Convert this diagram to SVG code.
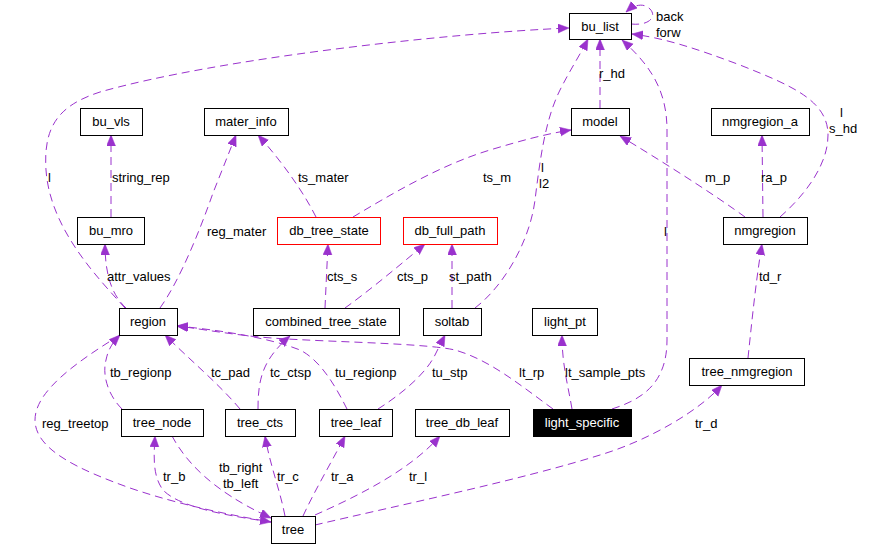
<svg xmlns="http://www.w3.org/2000/svg" width="892" height="548" viewBox="0 0 892 548">
<style>
.n rect{fill:#fff;stroke:#000;stroke-width:1}
.n.red rect{stroke:#f00}
.n.focus rect{fill:#000}
.n text{font-family:"Liberation Sans",Arial,sans-serif;font-size:13px;text-anchor:middle;fill:#000}
.n.focus text{fill:#fff}
.e path{fill:none;stroke:#9a32cd;stroke-width:1;stroke-dasharray:8,5;marker-end:url(#ah)}
.e text{font-family:"Liberation Sans",Arial,sans-serif;font-size:13px;fill:#000}
</style>
<defs>
<marker id="ah" markerUnits="userSpaceOnUse" markerWidth="13" markerHeight="11" refX="11" refY="4.5" orient="auto">
<path d="M0,0 L11,4.5 L0,9 z" fill="#9a32cd" stroke="#9a32cd" stroke-width="0.5"/>
</marker>
</defs>
<rect width="892" height="548" fill="#fff"/>
<g id="edges" class="e">
<path d="M125,308 C100,280 50,230 46,170 C43,125 60,105 100,92 C220,58 450,33 569,28"/>
<text x="48" y="182">l</text>
<path d="M111,217 L111,135"/>
<text x="112" y="182">string_rep</text>
<path d="M160,308 C180,280 200,230 213,193 L236,135"/>
<text x="207" y="236">reg_mater</text>
<path d="M316,217 C305,195 285,165 258,135"/>
<text x="298" y="182">ts_mater</text>
<path d="M353,217 C390,195 440,165 490,150 C520,141 545,134 571,130"/>
<text x="483" y="182">ts_m</text>
<path d="M475,308 C505,285 530,240 535,200 C540,160 545,120 560,90 C570,70 580,55 588,39"/>
<text x="541" y="172">l</text>
<text x="539" y="188">l2</text>
<path d="M600,108 L600,39"/>
<text x="599" y="78">r_hd</text>
<path d="M631,24 C650,26 657,16 650,9 C644,3 635,4 626,12"/>
<text x="656" y="21">back</text>
<text x="656" y="37">forw</text>
<path d="M612,409 C640,400 667,385 667,340 L667,130 C667,90 650,65 622,40"/>
<text x="664" y="236">l</text>
<path d="M780,217 C805,195 828,165 828,135 C828,100 790,85 740,65 C700,50 665,38 632,34"/>
<text x="840" y="117">l</text>
<text x="829" y="133">s_hd</text>
<path d="M745,217 C715,195 660,160 620,136"/>
<text x="705" y="182">m_p</text>
<path d="M763,217 L762,135"/>
<text x="761" y="182">ra_p</text>
<path d="M126,308 C112,295 105,275 105,244"/>
<text x="107" y="281">attr_values</text>
<path d="M325,308 L328,244"/>
<text x="327" y="281">cts_s</text>
<path d="M345,308 C370,290 400,265 425,244"/>
<text x="397" y="281">cts_p</text>
<path d="M452,308 L452,244"/>
<text x="449" y="281">st_path</text>
<path d="M748,358 C752,320 756,280 762,244"/>
<text x="759" y="281">td_r</text>
<path d="M122,409 C108,395 102,375 106,360 C108,350 112,343 120,335"/>
<text x="110" y="377">tb_regionp</text>
<path d="M240,409 C220,385 190,360 165,335"/>
<text x="211" y="377">tc_pad</text>
<path d="M258,409 C258,380 262,360 290,336"/>
<text x="270" y="377">tc_ctsp</text>
<path d="M347,409 C335,385 320,360 300,350 C270,338 220,330 177,326"/>
<text x="335" y="377">tu_regionp</text>
<path d="M378,409 C400,395 425,375 435,355 L445,335"/>
<text x="432" y="377">tu_stp</text>
<path d="M553,409 C520,385 490,360 455,350 C420,342 300,342 250,336 C215,332 195,328 177,326"/>
<text x="519" y="377">lt_rp</text>
<path d="M572,409 C568,385 562,365 562,335"/>
<text x="565" y="377">lt_sample_pts</text>
<path d="M120,335 C80,360 35,390 35,420 C35,450 80,470 130,488 C180,505 230,515 271,522"/>
<text x="42" y="428">reg_treetop</text>
<path d="M271,522 C230,516 180,508 163,490 C152,475 154,455 155,436"/>
<text x="163" y="481">tr_b</text>
<path d="M172,436 C185,460 210,490 271,518"/>
<text x="219" y="472">tb_right</text>
<text x="223" y="488">tb_left</text>
<path d="M285,516 C280,490 270,465 265,436"/>
<text x="277" y="481">tr_c</text>
<path d="M303,516 C315,490 330,465 345,436"/>
<text x="331" y="481">tr_a</text>
<path d="M315,515 C360,495 410,470 440,436"/>
<text x="409" y="481">tr_l</text>
<path d="M315,525 C400,505 520,480 600,455 C650,440 700,410 722,385"/>
<text x="695" y="428">tr_d</text>
</g>
<g id="bu_list" class="n"><rect x="569.5" y="13.5" width="62" height="26"/><text x="600" y="31">bu_list</text></g>
<g id="bu_vls" class="n"><rect x="80.5" y="108.5" width="62" height="27"/><text x="111" y="126">bu_vls</text></g>
<g id="mater_info" class="n"><rect x="204.5" y="108.5" width="84" height="27"/><text x="246" y="126">mater_info</text></g>
<g id="model" class="n"><rect x="571.5" y="108.5" width="58" height="27"/><text x="600" y="126">model</text></g>
<g id="nmgregion_a" class="n"><rect x="711.5" y="108.5" width="98" height="27"/><text x="760" y="126">nmgregion_a</text></g>
<g id="bu_mro" class="n"><rect x="77.5" y="217.5" width="67" height="27"/><text x="111" y="235">bu_mro</text></g>
<g id="db_tree_state" class="n red"><rect x="277.5" y="217.5" width="103" height="27"/><text x="329" y="235">db_tree_state</text></g>
<g id="db_full_path" class="n red"><rect x="403.5" y="217.5" width="94" height="27"/><text x="450" y="235">db_full_path</text></g>
<g id="nmgregion" class="n"><rect x="723.5" y="217.5" width="84" height="27"/><text x="765" y="235">nmgregion</text></g>
<g id="region" class="n"><rect x="119.5" y="308.5" width="58" height="27"/><text x="148" y="326">region</text></g>
<g id="combined_tree_state" class="n"><rect x="253.5" y="308.5" width="146" height="27"/><text x="326" y="326">combined_tree_state</text></g>
<g id="soltab" class="n"><rect x="423.5" y="308.5" width="58" height="27"/><text x="452" y="326">soltab</text></g>
<g id="light_pt" class="n"><rect x="532.5" y="308.5" width="65" height="27"/><text x="565" y="326">light_pt</text></g>
<g id="tree_nmgregion" class="n"><rect x="689.5" y="358.5" width="115" height="27"/><text x="747" y="376">tree_nmgregion</text></g>
<g id="tree_node" class="n"><rect x="121.5" y="409.5" width="82" height="27"/><text x="162" y="427">tree_node</text></g>
<g id="tree_cts" class="n"><rect x="225.5" y="409.5" width="70" height="27"/><text x="260" y="427">tree_cts</text></g>
<g id="tree_leaf" class="n"><rect x="319.5" y="409.5" width="73" height="27"/><text x="356" y="427">tree_leaf</text></g>
<g id="tree_db_leaf" class="n"><rect x="415.5" y="409.5" width="94" height="27"/><text x="462" y="427">tree_db_leaf</text></g>
<g id="light_specific" class="n focus"><rect x="533.5" y="409.5" width="98" height="27"/><text x="582" y="427">light_specific</text></g>
<g id="tree" class="n"><rect x="271.5" y="516.5" width="44" height="27"/><text x="293" y="534">tree</text></g>
</svg>
